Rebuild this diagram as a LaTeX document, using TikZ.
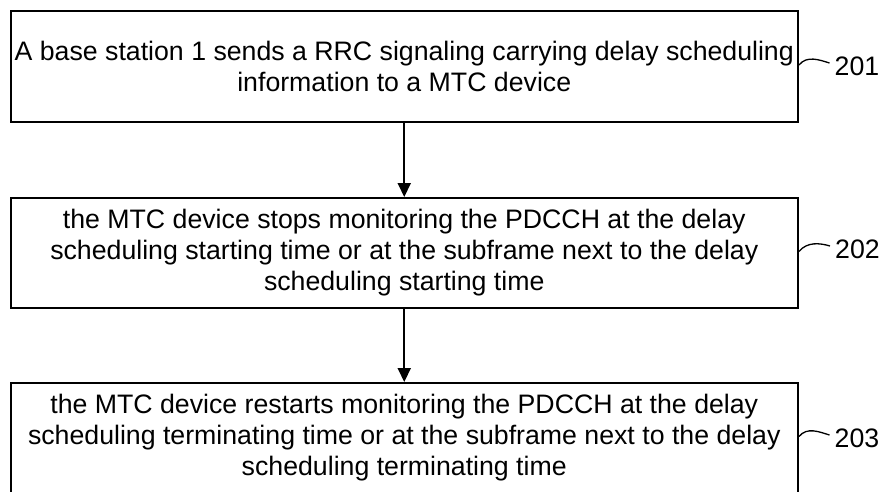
\documentclass[tikz,border=0pt]{standalone}
\usepackage{fontspec}
\setmainfont{Liberation Sans}
\usetikzlibrary{arrows.meta,calc}
\begin{document}
\begin{tikzpicture}[x=1pt,y=-1pt,
  stepbox/.style={draw=black,line width=2pt,minimum width=787.5pt,inner sep=0pt,align=center,
    font=\fontsize{26.7}{31}\selectfont},
  reflabel/.style={inner sep=0pt,anchor=center,font=\fontsize{26.7}{31}\selectfont},
  flow/.style={line width=2pt,-{Triangle[width=13pt,length=14pt]}},
  tick/.style={line width=1.3pt}]
\useasboundingbox (0,0) rectangle (885,491);
\node[stepbox,minimum height=111pt] (b1) at (404.25,66.5)
  {A base station 1 sends a RRC signaling carrying delay scheduling\\information to a MTC device};
\node[stepbox,minimum height=110pt] (b2) at (404.25,253)
  {the MTC device stops monitoring the PDCCH at the delay\\scheduling starting time or at the subframe next to the delay\\scheduling starting time};
\node[stepbox,minimum height=110pt] (b3) at (404.25,438)
  {the MTC device restarts monitoring the PDCCH at the delay\\scheduling terminating time or at the subframe next to the delay\\scheduling terminating time};
\node[reflabel] (l1) at (857,66) {201};
\node[reflabel] (l2) at (857.5,249) {202};
\node[reflabel] (l3) at (857,438) {203};
\draw[flow] (b1) -- (b2);
\draw[flow] (b2) -- (b3);
\draw[tick] ($(b1.east)+(0,-1.5)$) .. controls +(8,-10) and +(-10,-3) .. ($(l1.west)+(-5,-3)$);
\draw[tick] ($(b2.east)+(0,-1.5)$) .. controls +(8,-10) and +(-10,-3) .. ($(l2.west)+(-5,-3)$);
\draw[tick] ($(b3.east)+(0,-1.5)$) .. controls +(8,-10) and +(-10,-3) .. ($(l3.west)+(-5,-3)$);
\end{tikzpicture}
\end{document}
